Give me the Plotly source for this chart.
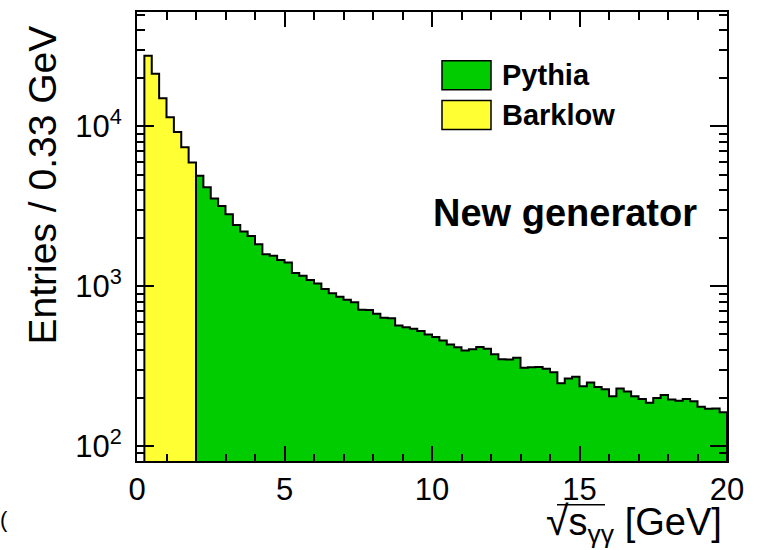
import numpy as np
import plotly.graph_objects as go

# ---- data -----------------------------------------------------------------
BIN_WIDTH = 0.25  # GeV

# Barklow sample: bins starting at 0.25 GeV up to 2 GeV
barklow_start = 0.25
barklow_counts = [27700, 21400, 15000, 11400, 9230, 7400, 5940]

# Pythia sample: bins from 2 GeV up to 20 GeV
pythia_start = 2.0
pythia_counts = [
    4920, 4170, 3545, 3175, 2820, 2420, 2200, 2065,
    1834, 1588, 1552, 1459, 1410, 1211, 1165, 1095,
    1042, 962, 906, 861, 825, 794, 713, 710,
    672, 635, 630, 569, 555, 543, 525, 500,
    482, 458, 433, 415, 397, 403, 417, 407,
    375, 349, 348, 357, 309, 311, 313, 305,
    290, 247, 265, 272, 237, 250, 234, 227,
    205, 229, 220, 205, 197, 187, 200, 209,
    196, 192, 197, 191, 176, 171, 172, 163,
]

series_colors = {"Pythia": "#00cc00", "Barklow": "#ffff33"}

x_range = [0, 20]
y_range = [80.7, 52000]
x_major = [0, 5, 10, 15, 20]
y_major = [1e2, 1e3, 1e4]
y_major_text = ["10<sup>2</sup>", "10<sup>3</sup>", "10<sup>4</sup>"]

# ---- geometry of the frame (pixels) ---------------------------------------
W, H = 758, 550
PLOT_L, PLOT_R, PLOT_T, PLOT_B = 137, 727, 10, 461


def px(x):
    return (x - PLOT_L) / (PLOT_R - PLOT_L)


def py(y):
    return (PLOT_B - y) / (PLOT_B - PLOT_T)


def step_outline(start, counts, floor=1.0):
    """Closed stair-step polygon of a histogram (fill + outline)."""
    edges = start + BIN_WIDTH * np.arange(len(counts) + 1)
    xs, ys = [edges[0]], [floor]
    for i, c in enumerate(counts):
        xs += [edges[i], edges[i + 1]]
        ys += [c, c]
    xs.append(edges[-1])
    ys.append(floor)
    return xs, ys


fig = go.Figure()

for name, start, counts in [
    ("Barklow", barklow_start, barklow_counts),
    ("Pythia", pythia_start, pythia_counts),
]:
    xs, ys = step_outline(start, counts)
    fig.add_trace(
        go.Scatter(
            x=xs, y=ys, mode="lines", fill="toself",
            fillcolor=series_colors[name],
            line=dict(color="black", width=2),
            name=name, showlegend=False, hoverinfo="skip",
        )
    )

FONT = "Liberation Sans, Arial, Helvetica, sans-serif"

# minor ticks of the log axis: 2..9 times each decade
y_minor = [m * 10.0 ** d for d in range(1, 5) for m in range(2, 10)]
y_minor = [v for v in y_minor if y_range[0] <= v <= y_range[1]]

fig.update_layout(
    width=W, height=H,
    margin=dict(l=PLOT_L, r=W - PLOT_R, t=PLOT_T, b=H - PLOT_B),
    paper_bgcolor="white", plot_bgcolor="white",
    font=dict(family=FONT, color="black"),
    showlegend=False,
    xaxis=dict(
        range=x_range, showgrid=False, zeroline=False,
        showline=True, linecolor="black", linewidth=2, mirror="allticks",
        ticks="inside", ticklen=15, tickwidth=1.5, tickcolor="black",
        tickvals=x_major, ticktext=[str(v) for v in x_major],
        tickfont=dict(size=31, family=FONT),
        minor=dict(dtick=1, ticks="inside", ticklen=7.5, tickwidth=1.5,
                   tickcolor="black", showgrid=False),
    ),
    yaxis=dict(
        type="log", range=[np.log10(y_range[0]), np.log10(y_range[1])],
        showgrid=False, zeroline=False,
        showline=True, linecolor="black", linewidth=2, mirror="allticks",
        ticks="inside", ticklen=17, tickwidth=1.5, tickcolor="black",
        tickvals=y_major, ticktext=y_major_text,
        tickfont=dict(size=31, family=FONT),
        ticklabelstandoff=7,
        minor=dict(tickmode="array", tickvals=y_minor, ticks="inside",
                   ticklen=8, tickwidth=1.5, tickcolor="black", showgrid=False),
    ),
)

# legend boxes
legend_rows = [("Pythia", 59, 88), ("Barklow", 99, 128)]
for name, top, bottom in legend_rows:
    fig.add_shape(
        type="rect", xref="paper", yref="paper",
        x0=px(442), x1=px(491), y0=py(bottom), y1=py(top),
        fillcolor=series_colors[name], line=dict(color="black", width=1.5),
    )
    fig.add_annotation(
        xref="paper", yref="paper", x=px(500), y=py((top + bottom) / 2),
        xanchor="left", yanchor="middle", showarrow=False,
        text=f"<b>{name}</b>", font=dict(size=29, family=FONT),
    )

fig.add_annotation(
    xref="paper", yref="paper", x=px(565), y=py(212),
    xanchor="center", yanchor="middle", showarrow=False,
    text="<b>New generator</b>", font=dict(size=38, family=FONT),
)

# axis titles
fig.add_annotation(
    xref="paper", yref="paper", x=px(42), y=py(22),
    xanchor="center", yanchor="top", textangle=-90, showarrow=False,
    text="Entries / 0.33 GeV", font=dict(size=39, family=FONT),
)
fig.add_annotation(
    xref="paper", yref="paper", x=px(724), y=py(551),
    xanchor="right", yanchor="bottom", showarrow=False,
    text="<span style='font-size:41px'>√</span>s<sub>γγ</sub> [GeV]",
    font=dict(size=38, family=FONT),
)
# vinculum of the square root
fig.add_shape(
    type="line", xref="paper", yref="paper",
    x0=px(557), x1=px(605), y0=py(505), y1=py(505),
    line=dict(color="black", width=1.5),
)

# partially visible mark at the lower left edge of the canvas
fig.add_annotation(
    xref="paper", yref="paper", x=px(-2), y=py(520),
    xanchor="left", yanchor="middle", showarrow=False,
    text="(", font=dict(size=22, family=FONT),
)

fig.write_html("out.html")
